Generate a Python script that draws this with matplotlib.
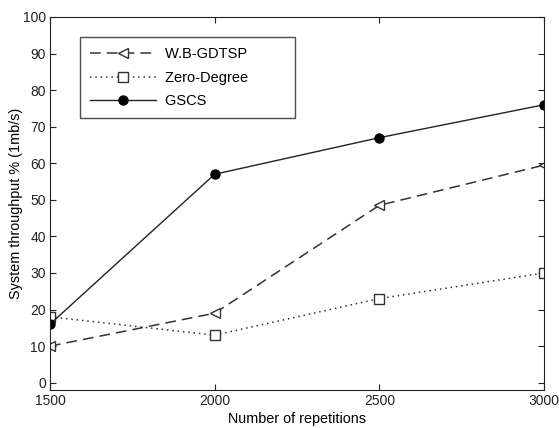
import matplotlib
matplotlib.use('Agg')
import matplotlib.pyplot as plt

plt.rcParams['font.family'] = ['Liberation Sans', 'DejaVu Sans']

reps = [1500, 2000, 2500, 3000]
wb_gdtsp = [10, 19, 48.5, 59.5]
zero_degree = [18, 13, 23, 30]
gscs = [16, 57, 67, 76]
names = ['W.B-GDTSP', 'Zero-Degree', 'GSCS']

fig = plt.figure(figsize=(5.59, 4.28), dpi=100)
ax = fig.add_axes([50/559, 1-390/428, 494/559, 373/428])

pad = ' ' * 9  # extra room on the right of the legend box
ax.plot(reps, wb_gdtsp, color='#333333', ls=(0, (7, 4)), lw=1.1,
        marker='<', ms=7, mfc='white', mec='#333333', label=names[0] + pad)
ax.plot(reps, zero_degree, color='#333333', ls=(0, (1, 2.5)), lw=1.1,
        marker='s', ms=6.5, mfc='white', mec='#333333', label=names[1] + pad)
ax.plot(reps, gscs, color='#222222', ls='-', lw=1.0,
        marker='o', ms=6.5, mfc='black', mec='black', label=names[2] + pad)

ax.set_xlim(1500, 3000)
ax.set_ylim(-2, 100)
ax.set_xticks(reps)
ax.set_yticks(range(0, 101, 10))
ax.tick_params(direction='in', top=True, right=True, labelsize=10, length=4,
               colors='#222222', pad=3)
for s in ax.spines.values():
    s.set_color('#222222')
ax.set_xlabel('Number of repetitions', fontsize=10.4, labelpad=3)
ax.set_ylabel('System throughput % (1mb/s)', fontsize=10.4, labelpad=0)

leg = ax.legend(loc='upper left', bbox_to_anchor=(30/494, 1-20/373),
                borderaxespad=0, fontsize=10.5, frameon=True, fancybox=False,
                edgecolor='#222222', borderpad=0.7, labelspacing=0.65,
                handlelength=4.5, handletextpad=0.6)
leg.get_frame().set_linewidth(1.0)

fig.savefig('out.png', dpi=100)
